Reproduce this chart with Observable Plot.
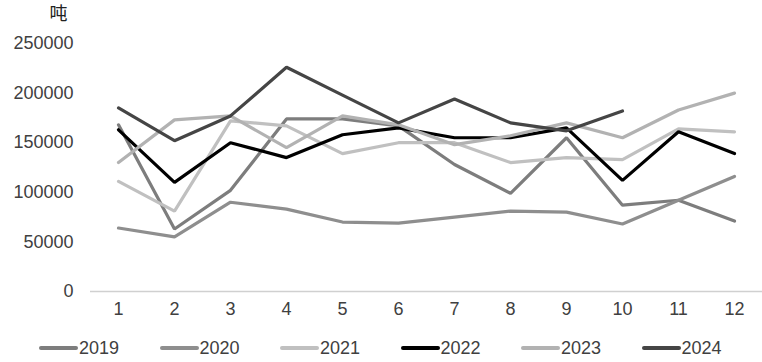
<!DOCTYPE html>
<html>
<head>
<meta charset="utf-8">
<script src="https://cdn.jsdelivr.net/npm/d3@7"></script>
<script src="https://cdn.jsdelivr.net/npm/@observablehq/plot@0.6"></script>
<style>
  html, body { margin: 0; padding: 0; background: #fff; }
  #chart { width: 762px; }
  .legend { display: flex; justify-content: flex-start; padding-left: 39px; padding-top: 6px; height: 28px; align-items: center;
    font-family: "Liberation Sans", Arial, sans-serif; font-size: 18px; color: #404040; }
  .legend .item { display: flex; align-items: center; width: 127.5px; }
  .legend .sw { width: 39px; height: 4px; border-radius: 2px; margin-right: 1px; }
</style>
</head>
<body>
<div id="chart"></div>
<script>
const months = [1,2,3,4,5,6,7,8,9,10,11,12];
const years = ["2019","2020","2021","2022","2023","2024"];
const colors = ["#7d7d7d","#8e8e8e","#c0c0c0","#000000","#b2b2b2","#454545"];
const v2019 = [168000, 63000, 102000, 174000, 174000, 167000, 128000, 99000, 155000, 87000, 92000, 71000];
const v2020 = [64000, 55000, 90000, 83000, 70000, 69000, 75000, 81000, 80000, 68000, 92000, 116000];
const v2021 = [111000, 81000, 172000, 167000, 139000, 150000, 150000, 130000, 135000, 133000, 164000, 161000];
const v2022 = [163000, 110000, 150000, 135000, 158000, 165000, 155000, 155000, 165000, 112000, 161000, 139000];
const v2023 = [130000, 173000, 177000, 145000, 177000, 168000, 148000, 157000, 170000, 155000, 183000, 200000];
const v2024 = [185000, 152000, 177000, 226000, 198000, 170000, 194000, 170000, 162000, 182000];
const yTicks = [0, 50000, 100000, 150000, 200000, 250000];
const unit = "吨";

const series = [v2019, v2020, v2021, v2022, v2023, v2024];
const data = [];
series.forEach((vals, i) => vals.forEach((v, j) => data.push({year: years[i], month: months[j], value: v})));

const plot = Plot.plot({
  width: 762,
  height: 328,
  marginLeft: 90,
  marginRight: 0,
  marginTop: 43,
  marginBottom: 37,
  style: {fontFamily: "'Liberation Sans', Arial, sans-serif", fontSize: "18px", color: "#404040", background: "#fff"},
  x: {domain: [0.5, 12.5], ticks: months, tickFormat: d => String(d), tickSize: 0, tickPadding: 11, label: null},
  y: {domain: [0, 250000], ticks: yTicks, tickFormat: d => String(d), tickSize: 0, tickPadding: 17, label: null},
  color: {domain: years, range: colors},
  marks: [
    Plot.ruleY([0], {stroke: "#d0d0d0", strokeWidth: 1.5}),
    Plot.line(data, {x: "month", y: "value", z: "year", stroke: "year", strokeWidth: 3.2, strokeLinejoin: "miter", strokeLinecap: "round"}),
    Plot.text([unit], {frameAnchor: "top-left", dx: -41, dy: -36, text: d => d, fontSize: 18, fill: "#222", fontFamily: "'Noto Sans CJK SC', sans-serif"})
  ]
});
document.getElementById("chart").appendChild(plot);

const legend = document.createElement("div");
legend.className = "legend";
years.forEach((y, i) => {
  const it = document.createElement("div");
  it.className = "item";
  it.innerHTML = `<span class="sw" style="background:${colors[i]}"></span><span>${y}</span>`;
  legend.appendChild(it);
});
document.getElementById("chart").appendChild(legend);
</script>
</body>
</html>
